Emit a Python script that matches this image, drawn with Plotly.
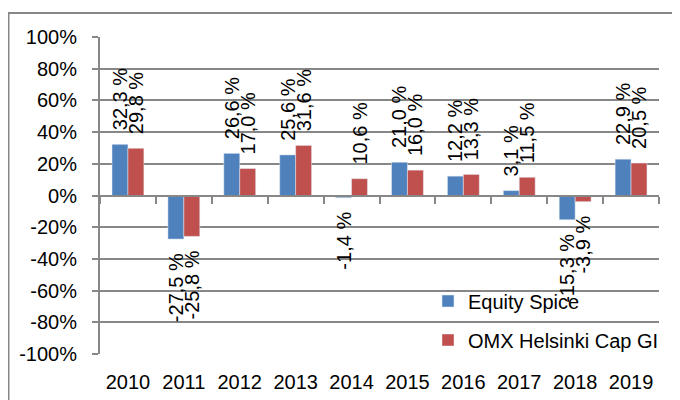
import plotly.graph_objects as go
import numpy as np

years = ["2010", "2011", "2012", "2013", "2014", "2015", "2016", "2017", "2018", "2019"]
equity_spice = [32.3, -27.5, 26.6, 25.6, -1.4, 21.0, 12.2, 3.1, -15.3, 22.9]
omx_helsinki = [29.8, -25.8, 17.0, 31.6, 10.6, 16.0, 13.3, 11.5, -3.9, 20.5]
y_ticks = [-100, -80, -60, -40, -20, 0, 20, 40, 60, 80, 100]

BLUE = "#4F81BD"
RED = "#C0504D"
GRID = "#878787"
FONT = "Liberation Sans"
FS = 20
NB = "\u00a0\u00a0"


def labels(vals):
    out = []
    for v in vals:
        s = f"{v:.1f}".replace(".", ",") + " %"
        out.append(NB + s if v >= 0 else s + NB)
    return out


# page body has an 8px margin; figure is sized to end at the window edge
OX, OY = 8, 8
W, H = 680 - OX, 400 - OY
PL, PR, PT, PB = 100, 659, 37, 354          # plot area in page pixels
ML, MR, MT, MB = PL - OX, 680 - PR, PT - OY, 400 - PB
pw, ph = W - ML - MR, H - MT - MB


def px_to_paper_x(px):
    return (px - OX - ML) / pw


def px_to_paper_y(py):
    return (OY + H - MB - py) / ph


fig = go.Figure()
fig.add_bar(x=years, y=[v / 100 for v in equity_spice], name="Equity Spice",
            marker_color=BLUE, text=labels(equity_spice), textposition="outside",
            textangle=-90, constraintext="none", cliponaxis=False,
            textfont=dict(family=FONT, size=FS, color="#000"), legend="legend")
fig.add_bar(x=years, y=[v / 100 for v in omx_helsinki], name="OMX Helsinki Cap GI",
            marker_color=RED, text=labels(omx_helsinki), textposition="outside",
            textangle=-90, constraintext="none", cliponaxis=False,
            textfont=dict(family=FONT, size=FS, color="#000"), legend="legend2")

# invisible helper trace for the zero-line axis with boundary ticks
n = len(years)
fig.add_scatter(x=[-0.5, n - 0.5], y=[0, 0], xaxis="x2", mode="lines",
                line=dict(color="rgba(0,0,0,0)"), showlegend=False, hoverinfo="skip")

fig.update_layout(
    width=W, height=H,
    margin=dict(l=ML, r=MR, t=MT, b=MB, pad=0, autoexpand=False),
    paper_bgcolor="white", plot_bgcolor="white",
    barmode="group", bargap=0.43, bargroupgap=0,
    font=dict(family=FONT, size=FS, color="#000"),
    xaxis=dict(type="category", showline=False, ticks="", showgrid=False,
               zeroline=False, ticklabelstandoff=14, automargin=False,
               tickfont=dict(family=FONT, size=FS, color="#000")),
    xaxis2=dict(overlaying="x", anchor="free", position=0.5, range=[-0.5, n - 0.5],
                showline=True, linecolor=GRID, linewidth=2, automargin=False,
                tickvals=list(np.arange(n + 1) - 0.5), ticks="outside", ticklen=7,
                tickwidth=2, tickcolor=GRID, showticklabels=False, showgrid=False,
                zeroline=False),
    yaxis=dict(range=[-1, 1], tickvals=[t / 100 for t in y_ticks],
               ticktext=[f"{t}%" for t in y_ticks], automargin=False,
               showgrid=True, gridcolor=GRID, gridwidth=2,
               showline=True, linecolor=GRID, linewidth=2,
               ticks="outside", ticklen=6, tickwidth=2, tickcolor=GRID,
               zeroline=False, ticklabelstandoff=11,
               tickfont=dict(family=FONT, size=FS, color="#000")),
    legend=dict(x=px_to_paper_x(428), y=px_to_paper_y(301), xanchor="left", yanchor="middle",
                bgcolor="rgba(0,0,0,0)", font=dict(family=FONT, size=FS, color="#000")),
    legend2=dict(x=px_to_paper_x(428), y=px_to_paper_y(340), xanchor="left", yanchor="middle",
                 bgcolor="rgba(0,0,0,0)", font=dict(family=FONT, size=FS, color="#000")),
    showlegend=True,
)

fig.add_shape(type="rect", xref="paper", yref="paper",
              x0=px_to_paper_x(8.5), x1=px_to_paper_x(690),
              y0=px_to_paper_y(410), y1=px_to_paper_y(13),
              line=dict(color=GRID, width=2), fillcolor="rgba(0,0,0,0)", layer="below")

fig.write_html("out.html")
